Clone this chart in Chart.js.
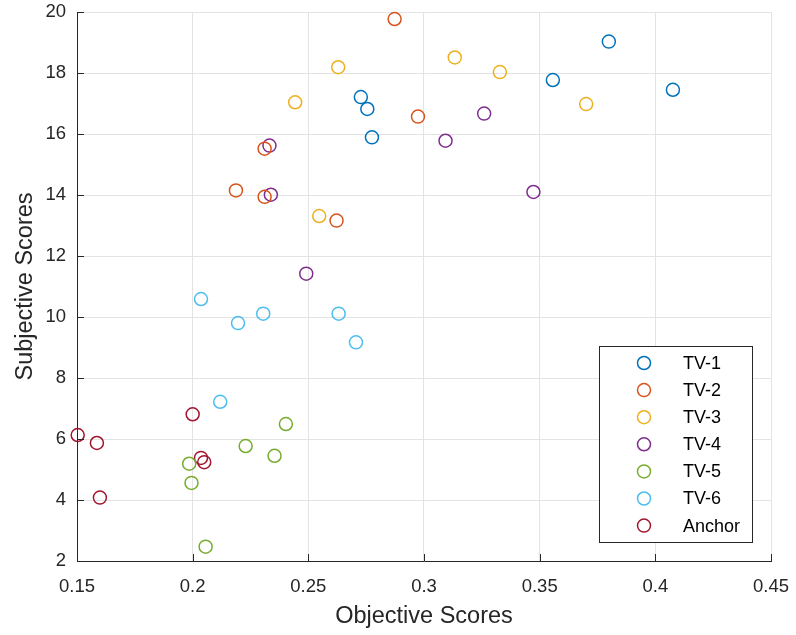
<!DOCTYPE html>
<html>
<head>
<meta charset="utf-8">
<script src="https://cdn.jsdelivr.net/npm/chart.js@4.4.1/dist/chart.umd.min.js"></script>
<style>
  body { margin: 0; background: #fff; }
  #wrap { width: 796px; height: 635px; }
</style>
</head>
<body>
<div id="wrap"><canvas id="myChart" width="796" height="635"></canvas></div>
<script>
const seriesNames = ['TV-1', 'TV-2', 'TV-3', 'TV-4', 'TV-5', 'TV-6', 'Anchor']
const seriesColors = ['#0072BD', '#D95319', '#EDB120', '#7E2F8E', '#77AC30', '#4DBEEE', '#A2142F']

const tv1X = [0.3799, 0.3557, 0.4076, 0.2727, 0.2755, 0.2775]
const tv1Y = [19.03, 17.77, 17.45, 17.21, 16.82, 15.89]
const tv2X = [0.2873, 0.2974, 0.2311, 0.2187, 0.2311, 0.2622]
const tv2Y = [19.77, 16.57, 15.52, 14.15, 13.94, 13.16]
const tv3X = [0.3133, 0.2629, 0.2443, 0.3328, 0.3701, 0.2547]
const tv3Y = [18.51, 18.19, 17.04, 18.03, 16.98, 13.31]
const tv4X = [0.3093, 0.2332, 0.2338, 0.2491, 0.3260, 0.3473]
const tv4Y = [15.78, 15.62, 14.01, 11.42, 16.67, 14.10]
const tv5X = [0.2403, 0.2229, 0.2354, 0.1985, 0.1995, 0.2056]
const tv5Y = [6.49, 5.77, 5.45, 5.19, 4.56, 2.47]
const tv6X = [0.2036, 0.2305, 0.2196, 0.2631, 0.2706, 0.2119]
const tv6Y = [10.59, 10.11, 9.80, 10.11, 9.17, 7.22]
const anchorX = [0.2000, 0.1503, 0.1586, 0.2036, 0.2050, 0.1599]
const anchorY = [6.81, 6.13, 5.87, 5.38, 5.24, 4.08]

const xTickLabels = ['0.15', '0.2', '0.25', '0.3', '0.35', '0.4', '0.45']
const yTickLabels = ['2', '4', '6', '8', '10', '12', '14', '16', '18', '20']

const allX = [tv1X, tv2X, tv3X, tv4X, tv5X, tv6X, anchorX]
const allY = [tv1Y, tv2Y, tv3Y, tv4Y, tv5Y, tv6Y, anchorY]

const FONT = '"Liberation Sans", Arial, Helvetica, sans-serif'
const AXIS = '#262626'

let datasets = []
seriesNames.forEach((name, i) => {
    datasets.push({
        label: name,
        data: allX[i].map((x, j) => ({ x: x, y: allY[i][j] })),
        borderColor: seriesColors[i],
        backgroundColor: 'rgba(0,0,0,0)',
        pointRadius: 6.5,
        pointBorderWidth: 1.5,
        pointHoverRadius: 6.5,
        clip: false
    })
})

// matlab style ticks pointing into the plot
const innerTicks = {
    id: 'innerTicks',
    afterDraw(chart) {
        const ctx = chart.ctx
        const xs = chart.scales.x
        const ys = chart.scales.y
        const a = chart.chartArea
        ctx.save()
        ctx.strokeStyle = AXIS
        ctx.lineWidth = 1
        ctx.beginPath()
        xTickLabels.forEach(t => {
            const px = Math.round(xs.getPixelForValue(parseFloat(t))) + 0.5
            ctx.moveTo(px, a.bottom)
            ctx.lineTo(px, a.bottom - 7)
        })
        yTickLabels.forEach(t => {
            const py = Math.round(ys.getPixelForValue(parseFloat(t))) + 0.5
            ctx.moveTo(a.left, py)
            ctx.lineTo(a.left + 7, py)
        })
        ctx.stroke()
        ctx.restore()
    }
}

const boxLegend = {
    id: 'boxLegend',
    afterDraw(chart) {
        const ctx = chart.ctx
        const left = 599, top = 346, w = 153, h = 196
        ctx.save()
        ctx.fillStyle = '#fff'
        ctx.fillRect(left, top, w, h)
        ctx.strokeStyle = AXIS
        ctx.lineWidth = 1
        ctx.strokeRect(left + 0.5, top + 0.5, w, h)
        ctx.font = '18px ' + FONT
        ctx.textBaseline = 'middle'
        chart.data.datasets.forEach((ds, i) => {
            const y = 363 + i * 27.1
            ctx.beginPath()
            ctx.arc(644, y, 6.5, 0, Math.PI * 2)
            ctx.strokeStyle = ds.borderColor
            ctx.lineWidth = 1.5
            ctx.stroke()
            ctx.fillStyle = '#000'
            ctx.fillText(ds.label, 683, y + 1)
        })
        ctx.restore()
    }
}

const ctx = document.getElementById('myChart')

new Chart(ctx, {
    type: 'scatter',
    data: { datasets: datasets },
    plugins: [innerTicks, boxLegend],
    options: {
        responsive: false,
        animation: false,
        layout: { padding: { top: 12, right: 25, left: 0, bottom: 0 } },
        plugins: {
            legend: { display: false },
            tooltip: { enabled: false }
        },
        scales: {
            x: {
                type: 'linear',
                min: 0.15,
                max: 0.45,
                afterFit: s => {
                    s.height = 74
                    s.paddingLeft = 0
                    s.paddingRight = 0
                },
                afterBuildTicks: s => { s.ticks = xTickLabels.map(v => ({ value: parseFloat(v) })) },
                ticks: {
                    padding: 15,
                    color: AXIS,
                    font: { family: FONT, size: 18.5 },
                    callback: (v, i) => xTickLabels[i]
                },
                grid: { color: '#e3e3e3', lineWidth: 1, drawTicks: false },
                border: { color: AXIS, width: 1 },
                title: {
                    display: true,
                    text: 'Objective Scores',
                    color: AXIS,
                    font: { family: FONT, size: 23.5 },
                    padding: { top: 0, bottom: 4 }
                }
            },
            y: {
                type: 'linear',
                min: 2,
                max: 20,
                afterFit: s => {
                    s.width = 77
                    s.paddingTop = 0
                    s.paddingBottom = 0
                },
                afterBuildTicks: s => { s.ticks = yTickLabels.map(v => ({ value: parseFloat(v) })) },
                ticks: {
                    padding: 11,
                    color: AXIS,
                    font: { family: FONT, size: 18.5 },
                    callback: (v, i) => yTickLabels[i]
                },
                grid: { color: '#e3e3e3', lineWidth: 1, drawTicks: false },
                border: { color: AXIS, width: 1 },
                title: {
                    display: true,
                    text: 'Subjective Scores',
                    color: AXIS,
                    font: { family: FONT, size: 23.5 },
                    padding: { top: 11, bottom: 0 }
                }
            }
        }
    }
})
</script>
</body>
</html>
